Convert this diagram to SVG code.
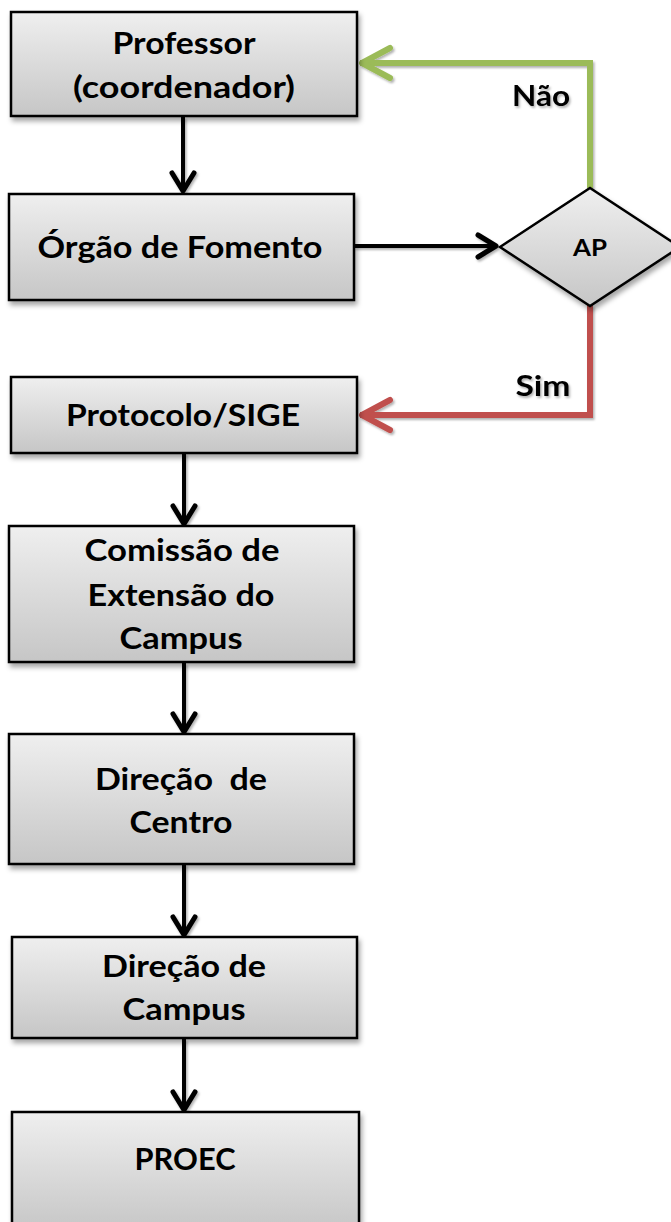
<svg xmlns="http://www.w3.org/2000/svg" width="671" height="1222" viewBox="0 0 671 1222">
<defs>
<linearGradient id="g" x1="0" y1="0" x2="0" y2="1">
<stop offset="0" stop-color="#efefef"/>
<stop offset="1" stop-color="#c6c6c6"/>
</linearGradient>
<filter id="sh" x="-10%" y="-10%" width="130%" height="140%">
<feDropShadow dx="2" dy="4" stdDeviation="2.5" flood-color="#000" flood-opacity="0.35"/>
</filter>
<filter id="tsh" filterUnits="userSpaceOnUse" x="0" y="0" width="671" height="1222">
<feDropShadow dx="1.5" dy="2" stdDeviation="1.2" flood-color="#000" flood-opacity="0.3"/>
</filter>
<marker id="ab" markerUnits="userSpaceOnUse" markerWidth="30" markerHeight="30" refX="23" refY="15" orient="auto" viewBox="0 0 30 30">
<path d="M4,4 L22,15 L4,26" fill="none" stroke="#000" stroke-width="5" stroke-linecap="round" stroke-linejoin="round"/>
</marker>
<marker id="ag" markerUnits="userSpaceOnUse" markerWidth="40" markerHeight="40" refX="36" refY="20" orient="auto" viewBox="0 0 40 40">
<path d="M6,5 L34,20 L6,35" fill="none" stroke="#9bbb59" stroke-width="6" stroke-linecap="round" stroke-linejoin="round"/>
</marker>
<marker id="ar" markerUnits="userSpaceOnUse" markerWidth="40" markerHeight="40" refX="36" refY="20" orient="auto" viewBox="0 0 40 40">
<path d="M6,5 L34,20 L6,35" fill="none" stroke="#c0504d" stroke-width="6" stroke-linecap="round" stroke-linejoin="round"/>
</marker>
</defs>
<style>
.box{fill:url(#g);stroke:#000;stroke-width:2.5;filter:url(#sh)}
.t{font-family:Lato,"Open Sans","Liberation Sans",sans-serif;font-weight:bold;font-size:30px;fill:#000;text-anchor:middle}
.lbl{font-family:Lato,"Open Sans","Liberation Sans",sans-serif;font-weight:bold;font-size:28px;fill:#000;text-anchor:middle;filter:url(#tsh)}
.ap{font-family:Lato,"Open Sans","Liberation Sans",sans-serif;font-weight:bold;font-size:22px;fill:#000;text-anchor:middle}
.cb{fill:none;stroke:#000;stroke-width:4;filter:url(#tsh)}
.cg{fill:none;stroke:#9bbb59;stroke-width:6;filter:url(#tsh)}
.cr{fill:none;stroke:#c0504d;stroke-width:6;filter:url(#tsh)}
</style>
<rect width="671" height="1222" fill="#fff"/>
<g id="connectors">
<path class="cb" d="M183,117 V192" marker-end="url(#ab)"/>
<path class="cb" d="M354,246 H497" marker-end="url(#ab)"/>
<path class="cg" d="M590,188 V63 H360" marker-end="url(#ag)"/>
<path class="cr" d="M590,305 V415 H360" marker-end="url(#ar)"/>
<path class="cb" d="M184,453 V525" marker-end="url(#ab)"/>
<path class="cb" d="M184,663 V733" marker-end="url(#ab)"/>
<path class="cb" d="M184,864 V936" marker-end="url(#ab)"/>
<path class="cb" d="M184,1039 V1111" marker-end="url(#ab)"/>
<text class="lbl" x="541" y="106" textLength="58" lengthAdjust="spacingAndGlyphs">Não</text>
<text class="lbl" x="543" y="396" textLength="55" lengthAdjust="spacingAndGlyphs">Sim</text>
</g>
<g id="n1">
<rect class="box" x="11" y="12" width="346" height="104"/>
<text class="t" x="184" y="54" textLength="143" lengthAdjust="spacingAndGlyphs">Professor</text>
<text class="t" x="184" y="98" textLength="222" lengthAdjust="spacingAndGlyphs">(coordenador)</text>
</g>
<g id="n2">
<rect class="box" x="9" y="194" width="345" height="106"/>
<text class="t" x="180" y="258" textLength="285" lengthAdjust="spacingAndGlyphs">Órgão de Fomento</text>
</g>
<g id="ap">
<polygon class="box" points="500,247 590,188 680,247 590,306"/>
<text class="ap" x="590" y="256" textLength="34" lengthAdjust="spacingAndGlyphs">AP</text>
</g>
<g id="n3">
<rect class="box" x="11" y="377" width="346" height="76"/>
<text class="t" x="183" y="426" textLength="234" lengthAdjust="spacingAndGlyphs">Protocolo/SIGE</text>
</g>
<g id="n4">
<rect class="box" x="9" y="526" width="345" height="136"/>
<text class="t" x="182" y="561" textLength="195" lengthAdjust="spacingAndGlyphs">Comissão de</text>
<text class="t" x="181" y="606" textLength="187" lengthAdjust="spacingAndGlyphs">Extensão do</text>
<text class="t" x="181" y="649" textLength="123" lengthAdjust="spacingAndGlyphs">Campus</text>
</g>
<g id="n5">
<rect class="box" x="9" y="734" width="345" height="130"/>
<text class="t" x="181" y="790" xml:space="preserve" textLength="172" lengthAdjust="spacingAndGlyphs">Direção  de</text>
<text class="t" x="181" y="833" textLength="103" lengthAdjust="spacingAndGlyphs">Centro</text>
</g>
<g id="n6">
<rect class="box" x="12" y="937" width="345" height="101"/>
<text class="t" x="184" y="977" textLength="164" lengthAdjust="spacingAndGlyphs">Direção de</text>
<text class="t" x="184" y="1020" textLength="123" lengthAdjust="spacingAndGlyphs">Campus</text>
</g>
<g id="n7">
<rect class="box" x="12" y="1112" width="347" height="120"/>
<text class="t" x="185" y="1170" textLength="101" lengthAdjust="spacingAndGlyphs">PROEC</text>
</g>
</svg>
